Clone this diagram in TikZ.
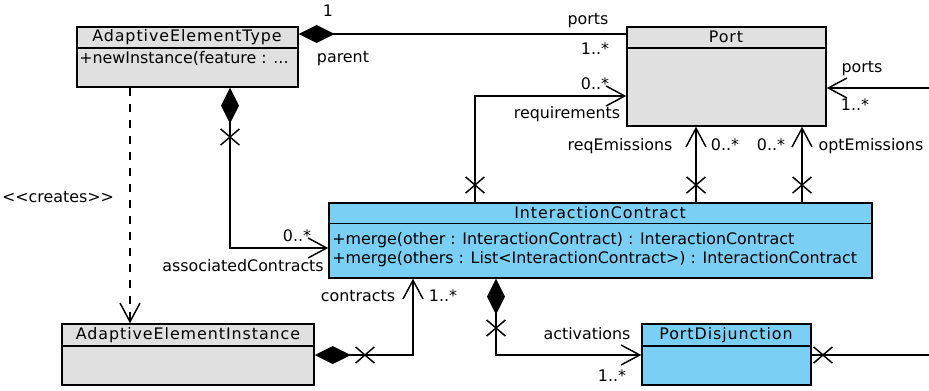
\documentclass[tikz,border=0pt]{standalone}
\usepackage{fontspec}
\setmainfont{DejaVu Sans}[Ligatures=TeXOff]
\newfontfamily\hdrfont[LetterSpace=6,Ligatures=TeXOff]{DejaVu Sans}
\usetikzlibrary{arrows.meta,fit,shapes.misc,calc}
\definecolor{umlgray}{RGB}{224,224,224}
\definecolor{umlblue}{RGB}{121,207,244}
\tikzset{
  x=0.75pt, y=-0.75pt,
  every node/.style={font=\fontsize{11.9}{14.3}\selectfont},
  cls/.style={draw, line width=1.1pt, inner sep=0pt},
  hdr/.style={inner sep=0pt, font=\fontsize{11.9}{14.3}\hdrfont},
  lbl/.style={inner sep=0pt, text height=8.6pt, text depth=2.6pt},
  opn/.style={inner sep=0pt, anchor=west, text height=8.6pt, text depth=2.6pt},
  conn/.style={line width=1.1pt},
  xm/.style={cross out, draw, line width=1.1pt, minimum width=13pt, minimum height=11pt, inner sep=0pt},
  dia/.style={{Diamond[length=27pt,width=13.5pt]}-},
  barb/.style={-{Straight Barb[length=14pt,width=15pt,line width=1.1pt]}},
  diabarb/.style={{Diamond[length=27pt,width=13.5pt]}-{Straight Barb[length=14pt,width=15pt,line width=1.1pt]}},
}
\begin{document}
\begin{tikzpicture}
\useasboundingbox (0,0) rectangle (929,390);

% classes
\node[cls, fill=umlgray, fit={(77,27) (298,87)}] (aet) {};
\draw[line width=1.1pt] (aet.west |- 0,48) -- (aet.east |- 0,48);
\node[hdr] (aetT) at (187,37) {AdaptiveElementType};
\node[opn] (aetO) at (79,59) {+newInstance(feature : ...};

\node[cls, fill=umlgray, fit={(627,27) (826,126)}] (port) {};
\draw[line width=1.1pt] (port.west |- 0,48) -- (port.east |- 0,48);
\node[hdr] (portT) at (726,37) {Port};

\node[cls, fill=umlblue, fit={(329,203) (872,278)}] (ic) {};
\draw[line width=1.1pt] (ic.west |- 0,223.5) -- (ic.east |- 0,223.5);
\node[hdr] (icT) at (600,213) {InteractionContract};
\node[opn] (icO1) at (332,240) {+merge(other : InteractionContract) : InteractionContract};
\node[opn] (icO2) at (332,259) {+merge(others : List<InteractionContract>) : InteractionContract};

\node[cls, fill=umlgray, fit={(62,324) (314,385)}] (aei) {};
\draw[line width=1.1pt] (aei.west |- 0,346) -- (aei.east |- 0,346);
\node[hdr] (aeiT) at (188,335) {AdaptiveElementInstance};

\node[cls, fill=umlblue, fit={(642,324) (811,385)}] (pd) {};
\draw[line width=1.1pt] (pd.west |- 0,346) -- (pd.east |- 0,346);
\node[hdr] (pdT) at (726,335) {PortDisjunction};

% free ends
\coordinate (portsEnd) at (929,88);
\coordinate (pdEnd) at (929,355);

% connectors
\draw[conn, dia] (aet.east |- 0,34) -- (port.west |- 0,34);
\draw[conn, barb] (portsEnd) -- (port.east |- portsEnd);
\draw[conn, barb] (ic.north -| 475,0) |- (port.west |- 0,96);
\draw[conn, barb] (ic.north -| 696,0) -- (port.south -| 696,0);
\draw[conn, barb] (ic.north -| 802,0) -- (port.south -| 802,0);
\draw[conn, diabarb] (aet.south -| 230,0) |- (ic.west |- 0,248);
\draw[conn, barb, dash pattern=on 6pt off 6pt] (aet.south -| 130,0) -- (aei.north -| 130,0);
\draw[conn, diabarb] (aei.east |- 0,355) -| (ic.south -| 413,0);
\draw[conn, diabarb] (ic.south -| 496,0) |- (pd.west |- 0,355);
\draw[conn] (pd.east |- pdEnd) -- (pdEnd);

% navigability crosses
\node[xm] (x1) at (475,185) {};
\node[xm] (x2) at (696,185) {};
\node[xm] (x3) at (802,185) {};
\node[xm] (x4) at (230,137) {};
\node[xm] (x5) at (365,355) {};
\node[xm] (x6) at (496,328) {};
\node[xm] (x7) at (823,355) {};

% labels
\node[lbl] (l1) at (328,12) {1};
\node[lbl] (l2) at (343,58) {parent};
\node[lbl] (l3) at (588,20) {ports};
\node[lbl] (l4) at (595,50) {1..*};
\node[lbl] (l5) at (595,85) {0..*};
\node[lbl] (l6) at (567,114) {requirements};
\node[lbl] (l7) at (862,68) {ports};
\node[lbl] (l8) at (855,106) {1..*};
\node[lbl] (l9) at (620,146) {reqEmissions};
\node[lbl] (l10) at (725,146) {0..*};
\node[lbl] (l11) at (771,146) {0..*};
\node[lbl] (l12) at (871,146) {optEmissions};
\node[lbl] (l13) at (297,237) {0..*};
\node[lbl] (l14) at (243,267) {associatedContracts};
\node[lbl] (l15) at (58,198) {<<creates>>};
\node[lbl] (l16) at (358,297) {contracts};
\node[lbl] (l17) at (443,297) {1..*};
\node[lbl] (l18) at (587,335) {activations};
\node[lbl] (l19) at (612,377) {1..*};
\end{tikzpicture}
\end{document}
